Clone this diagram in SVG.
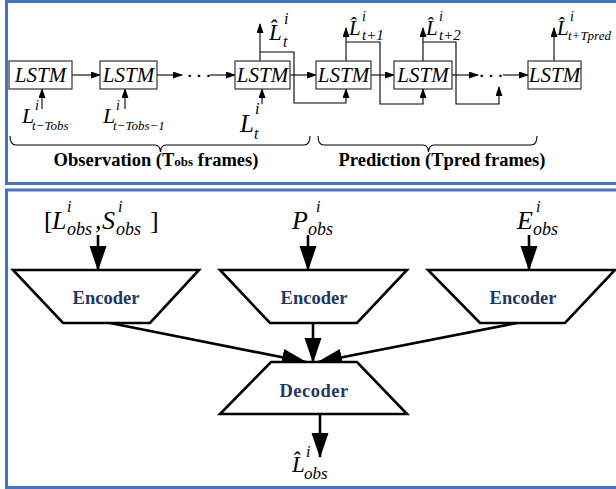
<svg xmlns="http://www.w3.org/2000/svg" width="616" height="489" viewBox="0 0 616 489">
<defs>
<style>
.panel{fill:#fff;stroke:#4472C4;stroke-width:3}
.box{fill:#fff;stroke:#333;stroke-width:1.2}
.thin{fill:none;stroke:#000;stroke-width:1.1}
.thick{fill:none;stroke:#000;stroke-width:2.6}
.trap{fill:#fff;stroke:#000;stroke-width:2.6;stroke-linejoin:miter}
.lstm{font-family:"Liberation Serif",serif;font-style:italic;font-size:21px;fill:#000;text-anchor:middle}
.m{font-family:"Liberation Serif",serif;font-style:italic;fill:#000}
.r{font-family:"Liberation Serif",serif;fill:#000}
.cap{font-family:"Liberation Serif",serif;font-weight:bold;font-size:18.5px;fill:#000;text-anchor:middle}
.enc{font-family:"Liberation Serif",serif;font-weight:bold;font-size:18.5px;fill:#1F3864;text-anchor:middle}
</style>
<marker id="sa" markerUnits="userSpaceOnUse" markerWidth="10" markerHeight="8" refX="9" refY="3.5" orient="auto"><path d="M0,0 L10,3.5 L0,7 z" fill="#000"/></marker>
<marker id="ba" markerUnits="userSpaceOnUse" markerWidth="26" markerHeight="18" refX="24" refY="8.5" orient="auto"><path d="M0,0 L25,8.5 L0,17 z" fill="#000"/></marker>
</defs>

<rect class="panel" x="6.5" y="1.5" width="640" height="182"/>
<rect class="panel" x="6.5" y="190" width="640" height="297.5"/>

<g id="connectors">
<path class="thin" d="M72,75 H100" marker-end="url(#sa)"/>
<path class="thin" d="M157,75 H182" marker-end="url(#sa)"/>
<path class="thin" d="M210,75 H235" marker-end="url(#sa)"/>
<path class="thin" d="M290,75 H316" marker-end="url(#sa)"/>
<path class="thin" d="M371,75 H394" marker-end="url(#sa)"/>
<path class="thin" d="M452,75 H478" marker-end="url(#sa)"/>
<path class="thin" d="M503,75 H528" marker-end="url(#sa)"/>
<path class="thin" d="M42,109 V89" marker-end="url(#sa)"/>
<path class="thin" d="M125,109 V89" marker-end="url(#sa)"/>
<path class="thin" d="M262,104 V89" marker-end="url(#sa)"/>
<path class="thin" d="M260,61 V24" marker-end="url(#sa)"/>
<path class="thin" d="M260,52 H294 V103 H346 V89" marker-end="url(#sa)"/>
<path class="thin" d="M346,61 V28" marker-end="url(#sa)"/>
<path class="thin" d="M346,42 H380 V104 H423 V89" marker-end="url(#sa)"/>
<path class="thin" d="M423,61 V28" marker-end="url(#sa)"/>
<path class="thin" d="M423,42 H456 V104 H499 V87" marker-end="url(#sa)"/>
<path class="thin" d="M554,61 V28" marker-end="url(#sa)"/>
<path class="thin" d="M10,136 Q10,145 16,145 H155 Q160,145 160.5,152 Q161,145 166,145 H304 Q310,145 310,136"/>
<path class="thin" d="M318,136 Q318,145 324,145 H423 Q428,145 428.5,152 Q429,145 434,145 H531 Q537,145 537,136"/>
<path class="thick" d="M98,235 V270" marker-end="url(#ba)"/>
<path class="thick" d="M308,235 V270" marker-end="url(#ba)"/>
<path class="thick" d="M529,235 V270" marker-end="url(#ba)"/>
<path class="thick" d="M110,323 L306,362" marker-end="url(#ba)"/>
<path class="thick" d="M313,323 V362" marker-end="url(#ba)"/>
<path class="thick" d="M517,323 L318,362" marker-end="url(#ba)"/>
<path class="thick" d="M320,414 V457" marker-end="url(#ba)"/>
</g>

<g id="lstm1"><rect class="box" x="9" y="61" width="63" height="28"/><text class="lstm" x="40.5" y="82">LSTM</text></g>
<g id="lstm2"><rect class="box" x="100" y="61" width="57" height="28"/><text class="lstm" x="128.5" y="82">LSTM</text></g>
<g id="lstm3"><rect class="box" x="235" y="61" width="55" height="28"/><text class="lstm" x="262.5" y="82">LSTM</text></g>
<g id="lstm4"><rect class="box" x="316" y="61" width="55" height="28"/><text class="lstm" x="343.5" y="82">LSTM</text></g>
<g id="lstm5"><rect class="box" x="394" y="61" width="58" height="28"/><text class="lstm" x="423" y="82">LSTM</text></g>
<g id="lstm6"><rect class="box" x="528" y="61" width="53" height="28"/><text class="lstm" x="554.5" y="82">LSTM</text></g>

<g id="dots">
<text class="r" x="186" y="83" font-size="22" letter-spacing="2">···</text>
<text class="r" x="478" y="83" font-size="22" letter-spacing="2">···</text>
</g>

<g id="inputs-top">
<text class="m" x="22" y="123" font-size="22">L</text><text class="m" x="35" y="110" font-size="14">i</text><text class="m" x="32" y="130" font-size="13">t−Tobs</text>
<text class="m" x="103" y="123" font-size="22">L</text><text class="m" x="116" y="110" font-size="14">i</text><text class="m" x="113" y="130" font-size="13">t−Tobs−1</text>
<text class="m" x="240" y="132" font-size="25">L</text><text class="m" x="255" y="114" font-size="16">i</text><text class="m" x="254" y="139" font-size="16">t</text>
</g>

<g id="outputs-top">
<text class="m" x="269" y="40" font-size="23">L&#x302;</text><text class="m" x="284" y="24" font-size="16">i</text><text class="m" x="283" y="47" font-size="16">t</text>
<text class="m" x="349" y="35" font-size="21">L&#x302;</text><text class="m" x="362" y="21" font-size="14">i</text><text class="m" x="362" y="40" font-size="15">t+1</text>
<text class="m" x="426" y="35" font-size="21">L&#x302;</text><text class="m" x="439" y="21" font-size="14">i</text><text class="m" x="439" y="40" font-size="15">t+2</text>
<text class="m" x="557" y="35" font-size="21">L&#x302;</text><text class="m" x="570" y="21" font-size="14">i</text><text class="m" x="568" y="40" font-size="13">t+Tpred</text>
</g>

<g id="captions">
<text class="cap" x="156" y="166">Observation (T<tspan font-size="13">obs</tspan> frames)</text>
<text class="cap" x="442" y="166">Prediction (Tpred frames)</text>
</g>

<g id="encoder1"><polygon class="trap" points="13,270 199,270 150,323 63,323"/><text class="enc" x="106" y="304">Encoder</text></g>
<g id="encoder2"><polygon class="trap" points="220,270 407,270 357,323 270,323"/><text class="enc" x="314" y="304">Encoder</text></g>
<g id="encoder3"><polygon class="trap" points="428,270 615,270 565,323 480,323"/><text class="enc" x="523" y="304">Encoder</text></g>
<g id="decoder"><polygon class="trap" points="271,362 357,362 407,414 220,414"/><text class="enc" x="314" y="397" letter-spacing="0.5">Decoder</text></g>

<g id="input-ls">
<text class="r" x="44" y="229" font-size="26">[</text>
<text class="m" x="52" y="229" font-size="26">L</text><text class="m" x="67" y="212" font-size="16">i</text><text class="m" x="67" y="235" font-size="18">obs</text>
<text class="r" x="95" y="229" font-size="26">,</text>
<text class="m" x="102" y="229" font-size="26">S</text><text class="m" x="118" y="212" font-size="16">i</text><text class="m" x="116" y="235" font-size="18">obs</text>
<text class="r" x="150" y="229" font-size="26">]</text>
</g>
<g id="input-p"><text class="m" x="292" y="229" font-size="26">P</text><text class="m" x="316" y="212" font-size="16">i</text><text class="m" x="308" y="235" font-size="18">obs</text></g>
<g id="input-e"><text class="m" x="517" y="229" font-size="26">E</text><text class="m" x="536" y="212" font-size="16">i</text><text class="m" x="533" y="235" font-size="18">obs</text></g>
<g id="output-l"><text class="m" x="292" y="472" font-size="23">L&#x302;</text><text class="m" x="306" y="457" font-size="16">i</text><text class="m" x="304" y="479" font-size="17">obs</text></g>
</svg>
